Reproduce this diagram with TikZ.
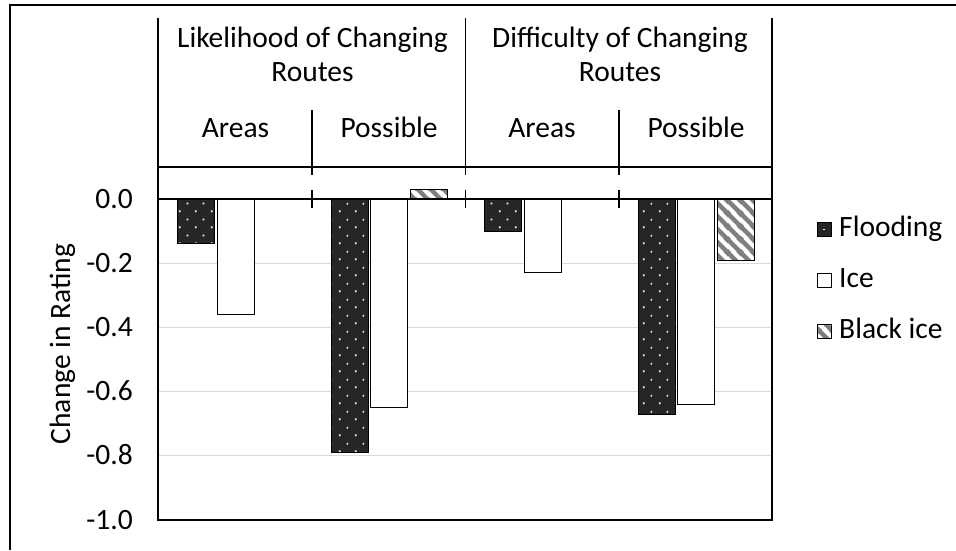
\documentclass[tikz,border=0pt]{standalone}
\usepackage{fontspec}
\setmainfont{Carlito}
\usetikzlibrary{patterns}
\definecolor{flood}{HTML}{262626}
\definecolor{gridc}{HTML}{D9D9D9}
\definecolor{stripec}{HTML}{7F7F7F}
\pgfdeclarepatternformonly{flooddots}{\pgfqpoint{0pt}{0pt}}{\pgfqpoint{16pt}{16pt}}{\pgfqpoint{16pt}{16pt}}{%
  \pgfpathrectangle{\pgfqpoint{3pt}{3pt}}{\pgfqpoint{1.8pt}{1.8pt}}%
  \pgfpathrectangle{\pgfqpoint{11pt}{11pt}}{\pgfqpoint{1.8pt}{1.8pt}}%
  \pgfusepath{fill}}
\pgfdeclarepatternformonly{icestripes}{\pgfqpoint{0pt}{0pt}}{\pgfqpoint{13pt}{13pt}}{\pgfqpoint{13pt}{13pt}}{%
  \pgfsetlinewidth{4.6pt}%
  \pgfpathmoveto{\pgfqpoint{-4pt}{4pt}}\pgfpathlineto{\pgfqpoint{4pt}{-4pt}}%
  \pgfpathmoveto{\pgfqpoint{-4pt}{17pt}}\pgfpathlineto{\pgfqpoint{17pt}{-4pt}}%
  \pgfpathmoveto{\pgfqpoint{9pt}{17pt}}\pgfpathlineto{\pgfqpoint{17pt}{9pt}}%
  \pgfusepath{stroke}}
\tikzset{
  frameline/.style={line width=1.6pt, black},
  axisline/.style={line width=1.3pt, black},
  gridline/.style={line width=1.3pt, gridc},
  floodbar/.style={preaction={fill=flood}, pattern=flooddots, pattern color=white, draw=black, line width=1pt},
  icebar/.style={fill=white, draw=black, line width=1pt},
  blackicebar/.style={preaction={fill=white}, pattern=icestripes, pattern color=stripec, draw=black, line width=1pt},
  lbl/.style={inner sep=0pt, font=\fontsize{29.5}{35}\selectfont},
}
\begin{document}
\begin{tikzpicture}[x=1pt,y=-1pt]
\useasboundingbox (0,0) rectangle (956,550);
% outer frame (partly visible)
\draw[frameline] (956,5) -- (10,5) -- (10,550);
% gridlines
\foreach \gy in {263.2,327.4,391.6,455.8}
  \draw[gridline] (158,\gy) -- (772,\gy);
% bars: Likelihood / Areas
\draw[floodbar] (177.5,199) rectangle (214.7,243.9);
\draw[icebar] (217.2,199) rectangle (254.4,314.6);
% Likelihood / Possible
\draw[floodbar] (331,199) rectangle (368.2,452.6);
\draw[icebar] (370.7,199) rectangle (407.9,407.7);
\draw[blackicebar] (410.4,199) rectangle (447.6,189.4);
% Difficulty / Areas
\draw[floodbar] (484.5,199) rectangle (521.7,231.1);
\draw[icebar] (524.2,199) rectangle (561.4,272.8);
% Difficulty / Possible
\draw[floodbar] (638,199) rectangle (675.2,414.1);
\draw[icebar] (677.7,199) rectangle (714.9,404.4);
\draw[blackicebar] (717.4,199) rectangle (754.6,260);
% plot frame and header
\draw[axisline] (158,18) -- (158,520) -- (772,520) -- (772,18);
\draw[axisline] (158,167) -- (772,167);
\draw[axisline] (158,199) -- (772,199);
\draw[axisline] (465.5,18) -- (465.5,175);
\draw[axisline] (312,110) -- (312,175);
\draw[axisline] (619,110) -- (619,175);
\foreach \tx in {312,465.5,619}
  \draw[axisline] (\tx,190) -- (\tx,208);
% header texts
\node[lbl, anchor=base] (h1a) at (312.5,47) {Likelihood of Changing};
\node[lbl, anchor=base] (h1b) at (312.5,81) {Routes};
\node[lbl, anchor=base] (h2a) at (620,47) {Difficulty of Changing};
\node[lbl, anchor=base] (h2b) at (620,81) {Routes};
\node[lbl, anchor=base] (c1) at (235.5,137) {Areas};
\node[lbl, anchor=base] (c2) at (389,137) {Possible};
\node[lbl, anchor=base] (c3) at (542,137) {Areas};
\node[lbl, anchor=base] (c4) at (696,137) {Possible};
% y tick labels
\node[lbl, anchor=base east] (t0) at (133,208) {0.0};
\node[lbl, anchor=base east] (t1) at (133,272.2) {-0.2};
\node[lbl, anchor=base east] (t2) at (133,336.4) {-0.4};
\node[lbl, anchor=base east] (t3) at (133,400.6) {-0.6};
\node[lbl, anchor=base east] (t4) at (133,464.8) {-0.8};
\node[lbl, anchor=base east] (t5) at (133,529) {-1.0};
% y axis title
\node[lbl, anchor=base, rotate=90] (ytitle) at (70,344) {Change in Rating};
% legend
\draw[draw=black, line width=1pt, fill=flood] (817,222.5) rectangle (831,236);
\fill[white] (823.2,228.5) rectangle (825,230.3);
\draw[icebar] (817,273.5) rectangle (831,287);
\draw[blackicebar] (817,324.5) rectangle (831,338);
\node[lbl, anchor=base west] (lf) at (839,236) {Flooding};
\node[lbl, anchor=base west] (li) at (839,287) {Ice};
\node[lbl, anchor=base west] (lb) at (839,338) {Black ice};
\end{tikzpicture}
\end{document}
